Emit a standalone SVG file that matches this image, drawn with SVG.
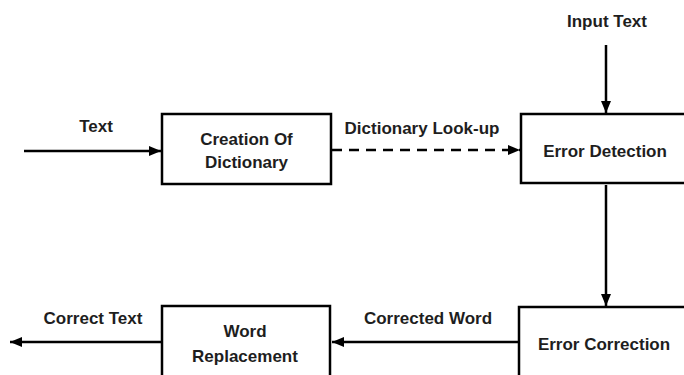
<svg xmlns="http://www.w3.org/2000/svg" width="684" height="375" viewBox="0 0 684 375">
<defs>
<style>
.box{fill:#fff;stroke:#000;stroke-width:2.5}
.ln{stroke:#000;stroke-width:2.5;fill:none}
.dash{stroke-dasharray:10 7}
text{font-family:"Liberation Sans",Arial,sans-serif;font-weight:bold;font-size:17px;fill:#1e1e1e;text-anchor:middle}
</style>
<marker id="ah" viewBox="0 0 12 10" refX="12" refY="5" markerWidth="12" markerHeight="10" markerUnits="userSpaceOnUse" orient="auto">
<path d="M0,0 L12,5 L0,10 Z" fill="#000"/>
</marker>
</defs>
<rect width="684" height="375" fill="#fff"/>
<g id="connectors">
<line class="ln" x1="24" y1="151" x2="161" y2="151" marker-end="url(#ah)"/>
<line class="ln dash" x1="332" y1="150" x2="520" y2="150" marker-end="url(#ah)"/>
<line class="ln" x1="606" y1="45" x2="606" y2="113" marker-end="url(#ah)"/>
<line class="ln" x1="606" y1="185" x2="606" y2="306" marker-end="url(#ah)"/>
<line class="ln" x1="519" y1="342" x2="332" y2="342" marker-end="url(#ah)"/>
<line class="ln" x1="162" y1="342" x2="10" y2="342" marker-end="url(#ah)"/>
<text x="96" y="132">Text</text>
<text x="422" y="134">Dictionary Look-up</text>
<text x="607" y="27">Input Text</text>
<text x="428" y="324">Corrected Word</text>
<text x="93" y="324">Correct Text</text>
</g>
<g id="creation">
<rect class="box" x="162" y="114" width="169" height="70"/>
<text x="246.5" y="145">Creation Of</text>
<text x="246.5" y="168">Dictionary</text>
</g>
<g id="detection">
<rect class="box" x="521" y="114" width="200" height="69"/>
<text x="605" y="157">Error Detection</text>
</g>
<g id="correction">
<rect class="box" x="519" y="307" width="200" height="100"/>
<text x="604" y="350">Error Correction</text>
</g>
<g id="replacement">
<rect class="box" x="162" y="306" width="168" height="100"/>
<text x="245" y="337">Word</text>
<text x="245" y="362">Replacement</text>
</g>
</svg>
